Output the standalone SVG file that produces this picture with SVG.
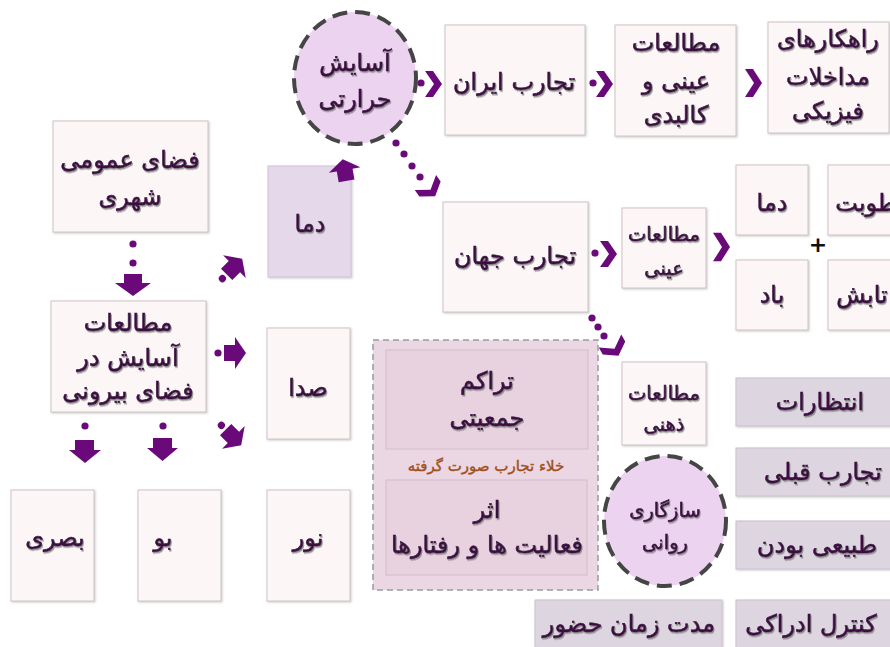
<svg xmlns="http://www.w3.org/2000/svg" xmlns:xlink="http://www.w3.org/1999/xlink" width="890" height="647" viewBox="0 0 890 647">
<defs>
<style>
.t{font-family:"DejaVu Sans",sans-serif;fill:#3c1042;stroke:#3c1042;stroke-width:0.6;text-anchor:middle;filter:url(#sh)}
.f24{font-size:24px}.f19{font-size:19.5px}
.box{fill:#fcf6f6;stroke:#cfc6c6;stroke-width:1}
.pbox{fill:#e4d8ea;stroke:#cfc6d6;stroke-width:1}
.lav{fill:#ddd5e0;stroke:#cbc2cf;stroke-width:1}
.circ{fill:#ecd4f0;stroke:#454545;stroke-width:4;stroke-dasharray:15 8}
.ac{fill:#6a0a7a}
.lbl{font-family:"DejaVu Sans",sans-serif;font-size:15px;fill:#a0501a;stroke:#a0501a;stroke-width:0.4;text-anchor:middle}
</style>
<filter id="sh" x="-10%" y="-20%" width="120%" height="150%">
<feDropShadow dx="1" dy="1.5" stdDeviation="0.7" flood-color="#7a7a7a" flood-opacity="0.8"/>
</filter>
<filter id="bs" x="-5%" y="-5%" width="115%" height="115%">
<feDropShadow dx="1" dy="1" stdDeviation="1" flood-color="#999" flood-opacity="0.5"/>
</filter>
<path id="bar" d="M-9,-8 H2 V-16 L13,0 L2,16 V8 H-9 Z"/>
<g id="blk">
<circle cx="-15" cy="0" r="3.6"/>
<use xlink:href="#bar"/>
</g>
<path id="chev" d="M-8,-13 H0 L9,0 L0,13 H-8 L1,0 Z"/>
</defs>

<g id="n-public">
<rect class="box" x="53" y="121" width="155" height="111" filter="url(#bs)"/>
<text class="t f24" x="130" y="168">فضای عمومی</text>
<text class="t f24" x="130" y="205">شهری</text>
</g>
<g id="n-outdoor">
<rect class="box" x="51" y="301" width="155" height="111" filter="url(#bs)"/>
<text class="t f24" x="128" y="331">مطالعات</text>
<text class="t f24" x="128" y="366">آسایش  در</text>
<text class="t f24" x="128" y="399">فضای بیرونی</text>
</g>
<g id="n-dama">
<rect class="pbox" x="268" y="166" width="83" height="111" filter="url(#bs)"/>
<text class="t f24" x="310" y="232">دما</text>
</g>
<g id="n-seda">
<rect class="box" x="267" y="328" width="83" height="111" filter="url(#bs)"/>
<text class="t f24" x="308" y="396">صدا</text>
</g>
<g id="n-noor">
<rect class="box" x="267" y="490" width="83" height="111" filter="url(#bs)"/>
<text class="t f24" x="308" y="546">نور</text>
</g>
<g id="n-boo">
<rect class="box" x="138" y="490" width="83" height="111" filter="url(#bs)"/>
<text class="t f24" x="163" y="546">بو</text>
</g>
<g id="n-basari">
<rect class="box" x="11" y="490" width="83" height="111" filter="url(#bs)"/>
<text class="t f24" x="55" y="546">بصری</text>
</g>
<g id="n-thermal">
<ellipse class="circ" cx="355" cy="78" rx="61" ry="66"/>
<text class="t f24" x="355" y="71">آسایش</text>
<text class="t f24" x="355" y="107">حرارتی</text>
</g>
<g id="n-iran">
<rect class="box" x="445" y="25" width="140" height="110" filter="url(#bs)"/>
<text class="t f24" x="514" y="90">تجارب ایران</text>
</g>
<g id="n-kalbadi">
<rect class="box" x="615" y="25" width="121" height="111" filter="url(#bs)"/>
<text class="t f24" x="676" y="51">مطالعات</text>
<text class="t f24" x="676" y="89">عینی و</text>
<text class="t f24" x="676" y="123">کالبدی</text>
</g>
<g id="n-rahkar">
<rect class="box" x="768" y="22" width="121" height="111" filter="url(#bs)"/>
<text class="t f24" x="828" y="47">راهکارهای</text>
<text class="t f24" x="828" y="85">مداخلات</text>
<text class="t f24" x="828" y="119">فیزیکی</text>
</g>
<g id="n-jahan">
<rect class="box" x="443" y="202" width="145" height="110" filter="url(#bs)"/>
<text class="t f24" x="515" y="264">تجارب جهان</text>
</g>
<g id="n-eini">
<rect class="box" x="622" y="208" width="84" height="80" filter="url(#bs)"/>
<text class="t f19" x="664" y="241">مطالعات</text>
<text class="t f19" x="664" y="275">عینی</text>
</g>
<g id="n-dama2">
<rect class="box" x="736" y="165" width="72" height="70" filter="url(#bs)"/>
<text class="t f24" x="772" y="211">دما</text>
</g>
<g id="n-rotubat">
<rect class="box" x="828" y="165" width="70" height="70" filter="url(#bs)"/>
<text class="t f24" x="872" y="211">رطوبت</text>
</g>
<g id="n-bad">
<rect class="box" x="736" y="260" width="72" height="70" filter="url(#bs)"/>
<text class="t f24" x="772" y="303">باد</text>
</g>
<g id="n-tabesh">
<rect class="box" x="828" y="260" width="70" height="70" filter="url(#bs)"/>
<text class="t f24" x="862" y="303">تابش</text>
</g>
<text x="818" y="252" style="font-family:'DejaVu Sans',sans-serif;font-size:22px;font-weight:bold;fill:#111;text-anchor:middle">+</text>

<g id="n-group">
<rect x="373" y="340" width="225" height="250" fill="#ebd6e3" stroke="#9a9a9a" stroke-width="1.5" stroke-dasharray="6 4"/>
<g id="n-tarakom">
<rect x="386" y="350" width="202" height="99" fill="#e8d2df" stroke="#d3bccb" stroke-width="1"/>
<text class="t f24" x="487" y="389">تراکم</text>
<text class="t f24" x="487" y="426">جمعیتی</text>
</g>
<text class="lbl" x="486" y="471">خلاء تجارب صورت گرفته</text>
<g id="n-asar">
<rect x="386" y="480" width="201" height="95" fill="#e8d2df" stroke="#d3bccb" stroke-width="1"/>
<text class="t f24" x="487" y="518">اثر</text>
<text class="t f24" x="487" y="553">فعالیت ها و رفتارها</text>
</g>
</g>

<g id="n-zehni">
<rect class="box" x="622" y="362" width="84" height="83" filter="url(#bs)"/>
<text class="t f19" x="664" y="400">مطالعات</text>
<text class="t f19" x="664" y="431">ذهنی</text>
</g>
<g id="n-ravani">
<ellipse class="circ" cx="665" cy="521" rx="61" ry="65"/>
<text class="t f19" x="665" y="517">سازگاری</text>
<text class="t f19" x="665" y="549">روانی</text>
</g>
<g id="n-entezarat">
<rect class="lav" x="736" y="378" width="160" height="48" filter="url(#bs)"/>
<text class="t f24" x="820" y="410">انتظارات</text>
</g>
<g id="n-ghabli">
<rect class="lav" x="736" y="448" width="160" height="48" filter="url(#bs)"/>
<text class="t f24" x="823" y="480">تجارب قبلی</text>
</g>
<g id="n-tabiei">
<rect class="lav" x="736" y="521" width="160" height="48" filter="url(#bs)"/>
<text class="t f24" x="817" y="553">طبیعی بودن</text>
</g>
<g id="n-kontrol">
<rect class="lav" x="736" y="600" width="160" height="52" filter="url(#bs)"/>
<text class="t f24" x="811" y="632">کنترل ادراکی</text>
</g>
<g id="n-moddat">
<rect class="lav" x="535" y="600" width="187" height="52" filter="url(#bs)"/>
<text class="t f24" x="629" y="632">مدت زمان حضور</text>
</g>

<g id="connectors" class="ac">
<circle cx="133" cy="244" r="3.6"/><circle cx="133" cy="263" r="3.6"/>
<path d="M124,274 H142 V283 H151 L133,296 L115,283 H124 Z"/>
<use xlink:href="#blk" transform="translate(233,353)"/>
<use xlink:href="#blk" transform="translate(233,268) rotate(-45)"/>
<use xlink:href="#blk" transform="translate(232,436) rotate(45)"/>
<circle cx="163" cy="426" r="3.6"/>
<path d="M153,438 H172 V448 H178 L162.5,461 L147,448 H153 Z"/>
<circle cx="85" cy="426" r="3.6"/>
<path d="M75,440 H94 V450 H101 L85,463 L69,450 H75 Z"/>
<use xlink:href="#bar" transform="translate(345,172) rotate(-100)"/>
<circle cx="421" cy="83" r="3.6"/>
<use xlink:href="#chev" transform="translate(433,84)"/>
<circle cx="593" cy="83" r="3.6"/>
<use xlink:href="#chev" transform="translate(604,84)"/>
<use xlink:href="#chev" transform="translate(753,83) scale(1,1.08)"/>
<circle cx="396" cy="143" r="3.6"/><circle cx="404" cy="154" r="3.6"/><circle cx="412" cy="166" r="3.6"/><circle cx="420" cy="177" r="3.6"/>
<use xlink:href="#chev" transform="translate(430,189) rotate(55)"/>
<circle cx="595" cy="253" r="3.6"/>
<use xlink:href="#chev" transform="translate(608,254)"/>
<use xlink:href="#chev" transform="translate(721,247) scale(1,1.1)"/>
<circle cx="592" cy="318" r="3.6"/><circle cx="598" cy="327" r="3.6"/><circle cx="604" cy="336" r="3.6"/>
<use xlink:href="#chev" transform="translate(614,348) rotate(60)"/>
</g>
</svg>
